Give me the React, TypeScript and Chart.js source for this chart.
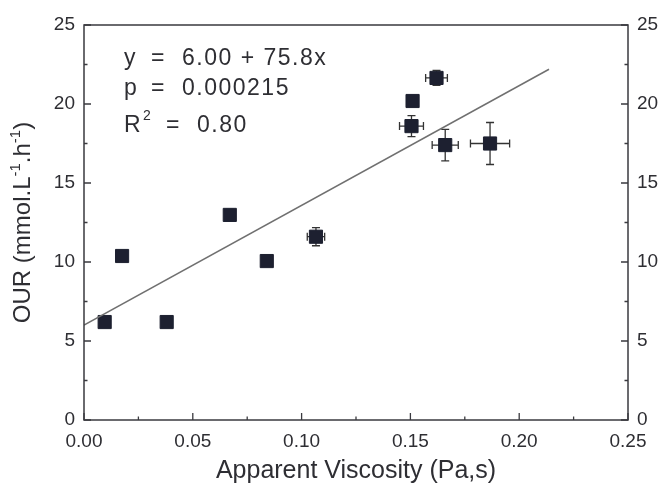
import React, { useEffect, useRef } from "react";
import { Chart, registerables } from "chart.js";

Chart.register(...registerables);

const viscosity = [0.0095, 0.0175, 0.038, 0.067, 0.084, 0.1066, 0.151, 0.1505, 0.162, 0.166, 0.1866];
const our = [6.2, 10.38, 6.2, 12.98, 10.06, 11.6, 20.19, 18.6, 21.65, 17.4, 17.5];
const viscosityErr = [0.001, 0.001, 0, 0.001, 0, 0.004, 0.002, 0.0055, 0.005, 0.006, 0.009];
const ourErr = [0.2, 0.2, 0, 0.35, 0, 0.57, 0.25, 0.66, 0.47, 1.0, 1.33];

const fitX = [0, 0.2137];
const fitY = [6.0, 22.2];

const xTicks = [0, 0.05, 0.1, 0.15, 0.2, 0.25];
const yTicks = [0, 5, 10, 15, 20, 25];
const xMinorTicks = [0.025, 0.075, 0.125, 0.175, 0.225];
const yMinorTicks = [2.5, 7.5, 12.5, 17.5, 22.5];

const eqLines = [
  { name: "y", value: "6.00 + 75.8x" },
  { name: "p", value: "0.000215" },
];
const r2Value = "0.80";
const xTitle = "Apparent Viscosity (Pa,s)";

const FONT = "'Liberation Sans', Arial, sans-serif";
const INK = "#2e2e33";

const decorPlugin = {
  id: "decor",
  beforeDatasetsDraw(chart: any) {
    const ctx = chart.ctx;
    const xs = chart.scales.x;
    const ys = chart.scales.y;
    ctx.save();
    ctx.strokeStyle = "#333";
    ctx.lineWidth = 1.3;
    viscosity.forEach((vx, i) => {
      const px = xs.getPixelForValue(vx);
      const py = ys.getPixelForValue(our[i]);
      const cap = 4;
      if (viscosityErr[i] > 0) {
        const x1 = xs.getPixelForValue(vx - viscosityErr[i]);
        const x2 = xs.getPixelForValue(vx + viscosityErr[i]);
        ctx.beginPath();
        ctx.moveTo(x1, py); ctx.lineTo(x2, py);
        ctx.moveTo(x1, py - cap); ctx.lineTo(x1, py + cap);
        ctx.moveTo(x2, py - cap); ctx.lineTo(x2, py + cap);
        ctx.stroke();
      }
      if (ourErr[i] > 0) {
        const y1 = ys.getPixelForValue(our[i] - ourErr[i]);
        const y2 = ys.getPixelForValue(our[i] + ourErr[i]);
        ctx.beginPath();
        ctx.moveTo(px, y1); ctx.lineTo(px, y2);
        ctx.moveTo(px - cap, y1); ctx.lineTo(px + cap, y1);
        ctx.moveTo(px - cap, y2); ctx.lineTo(px + cap, y2);
        ctx.stroke();
      }
    });
    ctx.restore();
  },
  afterDraw(chart: any) {
    const ctx = chart.ctx;
    const a = chart.chartArea;
    const xs = chart.scales.x;
    const ys = chart.scales.y;
    ctx.save();
    ctx.strokeStyle = "#3a3a3f";
    ctx.lineWidth = 1.5;
    ctx.strokeRect(a.left, a.top, a.right - a.left, a.bottom - a.top);
    ctx.lineWidth = 1.3;
    ctx.beginPath();
    yTicks.forEach((v) => {
      const p = ys.getPixelForValue(v);
      ctx.moveTo(a.left, p); ctx.lineTo(a.left + 7, p);
      ctx.moveTo(a.right, p); ctx.lineTo(a.right - 7, p);
    });
    yMinorTicks.forEach((v) => {
      const p = ys.getPixelForValue(v);
      ctx.moveTo(a.left, p); ctx.lineTo(a.left + 3.5, p);
      ctx.moveTo(a.right, p); ctx.lineTo(a.right - 3.5, p);
    });
    xTicks.forEach((v) => {
      const p = xs.getPixelForValue(v);
      ctx.moveTo(p, a.bottom); ctx.lineTo(p, a.bottom - 7);
    });
    xMinorTicks.forEach((v) => {
      const p = xs.getPixelForValue(v);
      ctx.moveTo(p, a.bottom); ctx.lineTo(p, a.bottom - 3.5);
    });
    ctx.stroke();

    // annotation
    ctx.fillStyle = INK;
    ctx.textAlign = "left";
    ctx.textBaseline = "alphabetic";
    ctx.font = `23px ${FONT}`;
    (ctx as any).letterSpacing = "1.5px";
    const baselines = [65, 95];
    eqLines.forEach((ln, i) => {
      ctx.fillText(ln.name, 124, baselines[i]);
      ctx.fillText("=", 151, baselines[i]);
      ctx.fillText(ln.value, 182, baselines[i]);
    });
    ctx.fillText("R", 124, 132);
    ctx.fillText("=", 166, 132);
    ctx.fillText(r2Value, 197, 132);
    (ctx as any).letterSpacing = "0px";
    ctx.font = `14px ${FONT}`;
    ctx.fillText("2", 143, 120);

    // x title
    ctx.textAlign = "center";
    ctx.font = `25px ${FONT}`;
    ctx.fillText(xTitle, (a.left + a.right) / 2, 478);

    // y title (rotated) with superscripts
    ctx.translate(30, (a.top + a.bottom) / 2);
    ctx.rotate(-Math.PI / 2);
    const parts: [string, boolean][] = [["OUR (mmol.L", false], ["-1", true], [".h", false], ["-1", true], [")", false]];
    const big = `24px ${FONT}`;
    const small = `15px ${FONT}`;
    let total = 0;
    parts.forEach(([t, sup]) => { ctx.font = sup ? small : big; total += ctx.measureText(t).width; });
    let x = -total / 2;
    ctx.textAlign = "left";
    parts.forEach(([t, sup]) => {
      ctx.font = sup ? small : big;
      ctx.fillText(t, x, sup ? -10 : 0);
      x += ctx.measureText(t).width;
    });
    ctx.restore();
  },
};

export default function App() {
  const ref = useRef<HTMLCanvasElement>(null);
  useEffect(() => {
    document.body.style.margin = "0";
    const chart = new Chart(ref.current!, {
      type: "scatter",
      data: {
        datasets: [
          {
            label: "fit",
            type: "line",
            data: fitX.map((x, i) => ({ x, y: fitY[i] })),
            borderColor: "#707070",
            borderWidth: 1.5,
            pointRadius: 0,
            fill: false,
          } as any,
          {
            label: "OUR",
            data: viscosity.map((x, i) => ({ x, y: our[i] })),
            pointStyle: "rect",
            pointRadius: 9.3,
            backgroundColor: "#1d2030",
            borderColor: "#1d2030",
            borderWidth: 1,
          },
        ],
      },
      options: {
        animation: false,
        responsive: false,
        layout: { padding: { top: 25, left: 0, right: 0, bottom: 0 } },
        plugins: { legend: { display: false }, tooltip: { enabled: false } },
        scales: {
          x: {
            type: "linear",
            min: 0,
            max: 0.25,
            afterBuildTicks: (s: any) => { s.ticks = xTicks.map((v) => ({ value: v })); },
            afterFit: (s: any) => { s.height = 70; },
            grid: { display: false, drawTicks: false },
            border: { display: false },
            ticks: {
              font: { family: FONT, size: 19 },
              color: INK,
              padding: 10,
              maxRotation: 0,
              callback: (v: any) => Number(v).toFixed(2),
            },
          },
          y: {
            type: "linear",
            position: "left",
            min: 0,
            max: 25,
            afterBuildTicks: (s: any) => { s.ticks = yTicks.map((v) => ({ value: v })); },
            afterFit: (s: any) => { s.width = 84; },
            grid: { display: false, drawTicks: false },
            border: { display: false },
            ticks: { font: { family: FONT, size: 19 }, color: INK, padding: 9 },
          },
          y2: {
            type: "linear",
            position: "right",
            min: 0,
            max: 25,
            afterBuildTicks: (s: any) => { s.ticks = yTicks.map((v) => ({ value: v })); },
            afterFit: (s: any) => { s.width = 36; },
            grid: { display: false, drawTicks: false },
            border: { display: false },
            ticks: { font: { family: FONT, size: 19 }, color: INK, padding: 9 },
          },
        },
      },
      plugins: [decorPlugin],
    });
    return () => chart.destroy();
  }, []);
  return <canvas ref={ref} width={664} height={490} style={{ display: "block" }} />;
}
